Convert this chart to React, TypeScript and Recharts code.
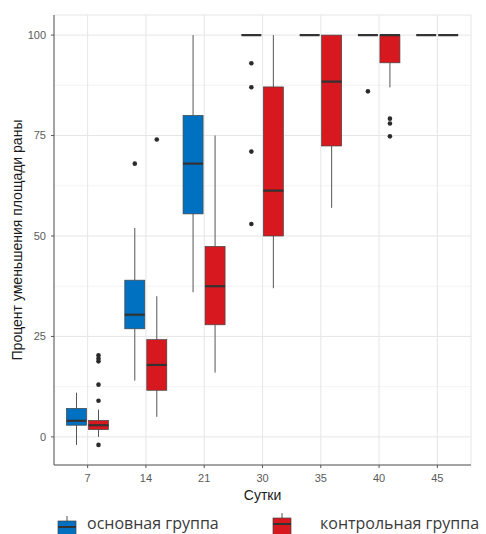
import React from 'react';
import {
  ComposedChart,
  Bar,
  XAxis,
  YAxis,
  CartesianGrid,
} from 'recharts';

// wound-area reduction (%) by day, boxplot stats
const days = ['7', '14', '21', '30', '35', '40', '45'];

const mainLow = [-2, 14, 36, 100, 100, 100, 100];
const mainQ1 = [2.9, 26.9, 55.5, 100, 100, 100, 100];
const mainMedian = [4, 30.4, 68, 100, 100, 100, 100];
const mainQ3 = [7.1, 39, 80, 100, 100, 100, 100];
const mainHigh = [11, 52, 100, 100, 100, 100, 100];
const mainOutliers = [[], [68], [], [93, 87, 71, 53], [], [86], []];

const ctrlLow = [0, 5, 16, 37, 57, 87, 100];
const ctrlQ1 = [1.8, 11.6, 27.9, 50, 72.4, 93.1, 100];
const ctrlMedian = [2.9, 17.9, 37.5, 61.3, 88.4, 100, 100];
const ctrlQ3 = [4.1, 24.2, 47.4, 87.1, 100, 100, 100];
const ctrlHigh = [6.8, 35, 75, 100, 100, 100, 100];
const ctrlOutliers = [[20.3, 19.5, 18.8, 13, 9, -2], [74], [], [], [], [79.2, 78, 74.8], []];

const yTicks = [0, 25, 50, 75, 100];
const yMinor = [12.5, 37.5, 62.5, 87.5];

const BLUE = '#0070C0';
const RED = '#D7191F';
const FONT = '"Liberation Sans", Arial, sans-serif';

type Stat = { low: number; q1: number; med: number; q3: number; high: number; out: number[] };

const rows = days.map((day, i) => ({
  day,
  main: {
    low: mainLow[i], q1: mainQ1[i], med: mainMedian[i], q3: mainQ3[i], high: mainHigh[i], out: mainOutliers[i],
  },
  ctrl: {
    low: ctrlLow[i], q1: ctrlQ1[i], med: ctrlMedian[i], q3: ctrlQ3[i], high: ctrlHigh[i], out: ctrlOutliers[i],
  },
}));

// full vertical extent of a group (whiskers + outliers) -> range bar
const extent = (s: Stat): [number, number] => [
  Math.min(s.low, ...s.out),
  Math.max(s.high, ...s.out),
];

function BoxShape(props: any) {
  const { x, y, width, height, stat, color } = props;
  const s: Stat = stat;
  const [lo, hi] = extent(s);
  const top = Math.min(y, y + height);
  const h = Math.abs(height);
  const py = (v: number) => (hi === lo ? top : top + ((hi - v) / (hi - lo)) * h);
  const cx = x + width / 2;
  const boxTop = py(s.q3);
  const boxBottom = py(s.q1);

  return (
    <g>
      <line x1={cx} x2={cx} y1={py(s.high)} y2={boxTop} stroke="#555" strokeWidth={1} />
      <line x1={cx} x2={cx} y1={boxBottom} y2={py(s.low)} stroke="#555" strokeWidth={1} />
      <rect
        x={x}
        y={boxTop}
        width={width}
        height={Math.max(boxBottom - boxTop, 0)}
        fill={color}
        stroke="#444"
        strokeWidth={0.7}
      />
      <line x1={x} x2={x + width} y1={py(s.med)} y2={py(s.med)} stroke="#333" strokeWidth={2.2} />
      {s.out.map((v, k) => (
        <circle key={k} cx={cx} cy={py(v)} r={2.3} fill="#2b2b2b" />
      ))}
    </g>
  );
}

const YLabel = (props: any) => {
  const vb = props.viewBox || {};
  const cx = 17;
  const cy = (vb.y ?? 15) + (vb.height ?? 450) / 2;
  return (
    <text
      x={cx}
      y={cy}
      transform={`rotate(-90 ${cx} ${cy})`}
      textAnchor="middle"
      dominantBaseline="central"
      fontFamily={FONT}
      fontSize={14}
      fill="#1a1a1a"
    >
      Процент уменьшения площади раны
    </text>
  );
};

const XLabel = (props: any) => {
  const vb = props.viewBox || {};
  const cx = (vb.x ?? 54) + (vb.width ?? 417) / 2;
  const cy = (vb.y ?? 465) + 30;
  return (
    <text
      x={cx}
      y={cy}
      textAnchor="middle"
      dominantBaseline="central"
      fontFamily={FONT}
      fontSize={14}
      fill="#1a1a1a"
    >
      Сутки
    </text>
  );
};

function LegendKey({ color, top }: { color: string; top: number }) {
  return (
    <svg width={20} height={24} style={{ display: 'block' }}>
      <line x1={10} x2={10} y1={0} y2={5} stroke="#555" strokeWidth={1} />
      <rect x={1} y={5} width={18} height={18} fill={color} stroke="#444" strokeWidth={0.7} />
      <line x1={1} x2={19} y1={top} y2={top} stroke="#333" strokeWidth={2} />
    </svg>
  );
}

export default function App() {
  const tickStyle = { fontSize: 11, fill: '#5a5a5a', fontFamily: FONT };
  const border = { stroke: '#555', strokeWidth: 1 };
  const legendText = { fontFamily: '"Open Sans", sans-serif', fontSize: 16, color: '#3a3a3a', lineHeight: '20px' };

  return (
    <div style={{ position: 'absolute', left: 0, top: 0, width: 486, height: 534, overflow: 'hidden', background: '#fff' }}>
      <ComposedChart
        width={486}
        height={534}
        data={rows}
        margin={{ top: 15, right: 15, bottom: 0, left: 0 }}
        barSize={20}
        barGap={2}
      >
        <CartesianGrid
          stroke="#f3f3f3"
          vertical={false}
          horizontalValues={yMinor}
        />
        <CartesianGrid stroke="#e6e6e6" strokeWidth={1} />
        <XAxis
          dataKey="day"
          height={69}
          padding={{ left: 4.5, right: 4.5 }}
          tick={tickStyle}
          tickSize={3}
          tickMargin={6}
          tickLine={{ stroke: '#555' }}
          axisLine={border}
          label={XLabel}
        />
        <XAxis
          xAxisId="top"
          dataKey="day"
          orientation="top"
          height={0}
          tick={false}
          tickLine={false}
          axisLine={border}
        />
        <YAxis
          width={54}
          domain={[-7, 105]}
          ticks={yTicks}
          allowDataOverflow
          tick={tickStyle}
          tickSize={3}
          tickMargin={5}
          tickLine={{ stroke: '#555' }}
          axisLine={border}
          label={YLabel}
        />
        <YAxis
          yAxisId="right"
          orientation="right"
          width={0}
          domain={[-7, 105]}
          tick={false}
          tickLine={false}
          axisLine={border}
        />
        <Bar
          dataKey={(r: any) => extent(r.main)}
          isAnimationActive={false}
          shape={(p: any) => <BoxShape {...p} stat={p.payload.main} color={BLUE} />}
        />
        <Bar
          dataKey={(r: any) => extent(r.ctrl)}
          isAnimationActive={false}
          shape={(p: any) => <BoxShape {...p} stat={p.payload.ctrl} color={RED} />}
        />
      </ComposedChart>

      <div style={{ position: 'absolute', left: 57, top: 513, display: 'flex', alignItems: 'flex-start' }}>
        <div style={{ marginTop: 3 }}>
          <LegendKey color={BLUE} top={11} />
        </div>
        <span style={{ marginLeft: 10, marginTop: 0, ...legendText }}>основная группа</span>
      </div>
      <div style={{ position: 'absolute', left: 272, top: 513, display: 'flex', alignItems: 'flex-start' }}>
        <LegendKey color={RED} top={11} />
        <span style={{ marginLeft: 28, marginTop: 0, ...legendText }}>контрольная группа</span>
      </div>
    </div>
  );
}
